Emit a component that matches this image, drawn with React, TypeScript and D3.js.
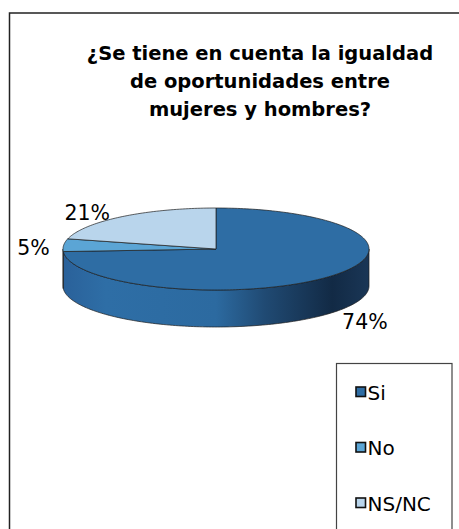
import React from "react";
import * as d3 from "d3";

// Survey answers and their shares (%)
const categories = ["Si", "No", "NS/NC"];
const shares = [74, 5, 21];
const percentLabels = ["74%", "5%", "21%"];
const titleLines = [
  "¿Se tiene en cuenta la igualdad",
  "de oportunidades entre",
  "mujeres y hombres?",
];

const topColors = ["#2E6DA4", "#5BA5D5", "#B9D5EC"];
const sideColors = ["#2E6DA4", "#3F7FAE", "#8FB3D2"];
const labelNudge: [number, number][] = [
  [0, 1],
  [6, 12],
  [0, 19],
];

const W = 459;
const H = 529;
const cx = 216;
const cy = 249;
const rx = 153;
const ry = 41;
const depth = 37;
const font = "'DejaVu Sans', Verdana, sans-serif";

// angle measured clockwise from 12 o'clock
const px = (a: number, r = rx) => cx + r * Math.sin(a);
const py = (a: number, r = ry) => cy - r * Math.cos(a);

function arcPoints(a0: number, a1: number, dy = 0) {
  const n = Math.max(2, Math.ceil(Math.abs(a1 - a0) / 0.02));
  const pts: [number, number][] = [];
  for (let i = 0; i <= n; i++) {
    const a = a0 + ((a1 - a0) * i) / n;
    pts.push([px(a), py(a) + dy]);
  }
  return pts;
}

function topPath(a0: number, a1: number) {
  const pts = arcPoints(a0, a1);
  return (
    `M${cx},${cy}` +
    pts.map((p) => `L${p[0]},${p[1]}`).join("") +
    "Z"
  );
}

function sidePath(a0: number, a1: number) {
  const front0 = Math.max(a0, Math.PI / 2);
  const front1 = Math.min(a1, (3 * Math.PI) / 2);
  if (front1 <= front0) return null;
  const top = arcPoints(front0, front1);
  const bottom = arcPoints(front1, front0, depth);
  return (
    "M" +
    top.map((p) => `${p[0]},${p[1]}`).join("L") +
    "L" +
    bottom.map((p) => `${p[0]},${p[1]}`).join("L") +
    "Z"
  );
}

export default function App() {
  const pie = d3
    .pie<number>()
    .sort(null)
    .value((d) => d);
  const arcs = pie(shares);

  const legendY = d3
    .scalePoint<string>()
    .domain(categories)
    .range([392, 503]);

  const stroke = "#1c1c1c";

  return (
    <svg
      width={W}
      height={H}
      style={{ position: "absolute", left: 0, top: 0, background: "#fff" }}
      fontFamily={font}
    >
      <defs>
        <linearGradient id="sideSi" x1={cx - rx} x2={cx + rx} y1={0} y2={0} gradientUnits="userSpaceOnUse">
          <stop offset="0" stopColor="#2A619A" />
          <stop offset="0.14" stopColor="#2E6EA6" />
          <stop offset="0.5" stopColor="#2C6AA0" />
          <stop offset="0.66" stopColor="#204A73" />
          <stop offset="0.88" stopColor="#122A45" />
          <stop offset="1" stopColor="#1A3656" />
        </linearGradient>
      </defs>

      <rect x={9.5} y={13} width={W} height={H} fill="#fff" stroke="#222" strokeWidth={1.5} />

      {titleLines.map((t, i) => (
        <text
          key={t}
          x={260}
          y={60 + i * 28}
          textAnchor="middle"
          fontWeight="bold"
          fontSize={19.5}
          fill="#000"
        >
          {t}
        </text>
      ))}

      {/* side walls of the front half */}
      {arcs.map((a, i) => {
        const d = sidePath(a.startAngle, a.endAngle);
        return d ? (
          <path
            key={"s" + i}
            d={d}
            fill={i === 0 ? "url(#sideSi)" : sideColors[i]}
            stroke={stroke}
            strokeWidth={0.7}
          />
        ) : null;
      })}

      {/* top faces */}
      {arcs.map((a, i) => (
        <path
          key={"t" + i}
          d={topPath(a.startAngle, a.endAngle)}
          fill={topColors[i]}
          stroke={stroke}
          strokeWidth={0.7}
          strokeLinejoin="round"
        />
      ))}

      {/* percentage labels */}
      {arcs.map((a, i) => {
        const mid = (a.startAngle + a.endAngle) / 2;
        const front = Math.cos(mid) < 0;
        const x = px(mid, rx + 20) + labelNudge[i][0];
        const y = py(mid, ry + 20) + (front ? depth : 0) + labelNudge[i][1];
        return (
          <text
            key={"l" + i}
            x={x}
            y={y}
            textAnchor={Math.sin(mid) >= 0 ? "start" : "end"}
            fontSize={20.5}
            fill="#000"
          >
            {percentLabels[i]}
          </text>
        );
      })}

      {/* legend */}
      <rect x={336.5} y={363.5} width={115.5} height={200} fill="#fff" stroke="#444" strokeWidth={1.2} />
      {categories.map((c, i) => {
        const y = legendY(c) as number;
        return (
          <g key={c}>
            <rect
              x={356}
              y={y - 5}
              width={9.5}
              height={9.5}
              fill={topColors[i]}
              stroke="#111"
              strokeWidth={1.6}
            />
            <text x={367.5} y={y + 7.5} fontSize={20} fill="#000">
              {c}
            </text>
          </g>
        );
      })}
    </svg>
  );
}
